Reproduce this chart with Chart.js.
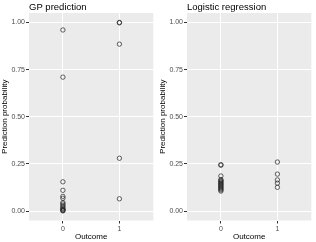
<!DOCTYPE html>
<html>
<head>
<meta charset="utf-8">
<script src="https://cdn.jsdelivr.net/npm/chart.js@4"></script>
<style>
  body { margin: 0; background: white; }
  .wrap { display: flex; width: 316px; height: 242px; }
  .panel { position: relative; width: 158px; height: 242px; }
</style>
</head>
<body>
<div class="wrap">
  <div class="panel"><canvas id="gp"></canvas></div>
  <div class="panel"><canvas id="lr"></canvas></div>
</div>
<script>
// outcome categories and tick labels
const outcomes = ['0', '1']
const yTicks = [0, 0.25, 0.5, 0.75, 1]

// GP prediction probabilities, split by outcome
const gpOutcome0 = [0.96, 0.71, 0.155, 0.11, 0.078, 0.068, 0.045, 0.038, 0.03, 0.022, 0.015, 0.01, 0.006, 0.003, 0.001]
const gpOutcome1 = [1.0, 0.998, 0.885, 0.28, 0.065]

// logistic regression probabilities, split by outcome
const lrOutcome0 = [0.246, 0.243, 0.186, 0.167, 0.162, 0.157, 0.152, 0.147, 0.142, 0.137, 0.132, 0.127, 0.122, 0.117, 0.112, 0.106]
const lrOutcome1 = [0.26, 0.196, 0.165, 0.148, 0.126]

const FONT = 'Liberation Sans, Arial, Helvetica, sans-serif'

// grey panel background + left-aligned title like ggplot
const ggPanel = {
  id: 'ggPanel',
  beforeDraw(chart, args, opts) {
    const { ctx, chartArea: a } = chart
    ctx.save()
    ctx.fillStyle = '#EBEBEB'
    ctx.fillRect(a.left, a.top, a.right - a.left, a.bottom - a.top)
    ctx.restore()
  },
  afterDraw(chart, args, opts) {
    const { ctx, chartArea: a } = chart
    ctx.save()
    ctx.fillStyle = '#000'
    ctx.font = '9.5px ' + FONT
    ctx.textBaseline = 'alphabetic'
    ctx.fillText(opts.text, a.left, 10)
    ctx.restore()
  }
}

function makeChart(id, title, zeros, ones) {
  const pts = [
    ...zeros.map(v => ({ x: 0, y: v })),
    ...ones.map(v => ({ x: 1, y: v }))
  ]
  new Chart(document.getElementById(id), {
    type: 'scatter',
    data: {
      datasets: [{
        data: pts,
        pointStyle: 'circle',
        pointRadius: 2.2,
        pointBorderWidth: 0.7,
        borderColor: '#222',
        backgroundColor: 'rgba(0,0,0,0)'
      }]
    },
    options: {
      responsive: true,
      maintainAspectRatio: false,
      animation: false,
      layout: { padding: { top: 13, right: 3, left: 0, bottom: 0 } },
      plugins: {
        legend: { display: false },
        tooltip: { enabled: false },
        ggPanel: { text: title }
      },
      scales: {
        x: {
          type: 'linear',
          min: -0.6,
          max: 1.6,
          afterBuildTicks: s => { s.ticks = outcomes.map((o, i) => ({ value: i })) },
          afterFit: s => { s.height = 21.5 },
          ticks: {
            callback: (v, i) => outcomes[i],
            color: '#4D4D4D',
            font: { family: FONT, size: 7 },
            padding: 1,
            maxRotation: 0
          },
          grid: { color: '#FFFFFF', lineWidth: 1, tickColor: '#333333', tickLength: 3 },
          border: { display: false },
          title: {
            display: true,
            text: 'Outcome',
            color: '#000',
            font: { family: FONT, size: 8 },
            padding: { top: 1, bottom: 0 }
          }
        },
        y: {
          min: -0.05,
          max: 1.05,
          afterBuildTicks: s => { s.ticks = yTicks.map(v => ({ value: v })) },
          afterFit: s => { s.width = 29 },
          ticks: {
            callback: v => v.toFixed(2),
            color: '#4D4D4D',
            font: { family: FONT, size: 7 },
            padding: 1
          },
          grid: { color: '#FFFFFF', lineWidth: 1, tickColor: '#333333', tickLength: 3 },
          border: { display: false },
          title: {
            display: true,
            text: 'Prediction probability',
            color: '#000',
            font: { family: FONT, size: 8 },
            padding: { top: 0, bottom: 1 }
          }
        }
      }
    },
    plugins: [ggPanel]
  })
}

makeChart('gp', 'GP prediction', gpOutcome0, gpOutcome1)
makeChart('lr', 'Logistic regression', lrOutcome0, lrOutcome1)
</script>
</body>
</html>
